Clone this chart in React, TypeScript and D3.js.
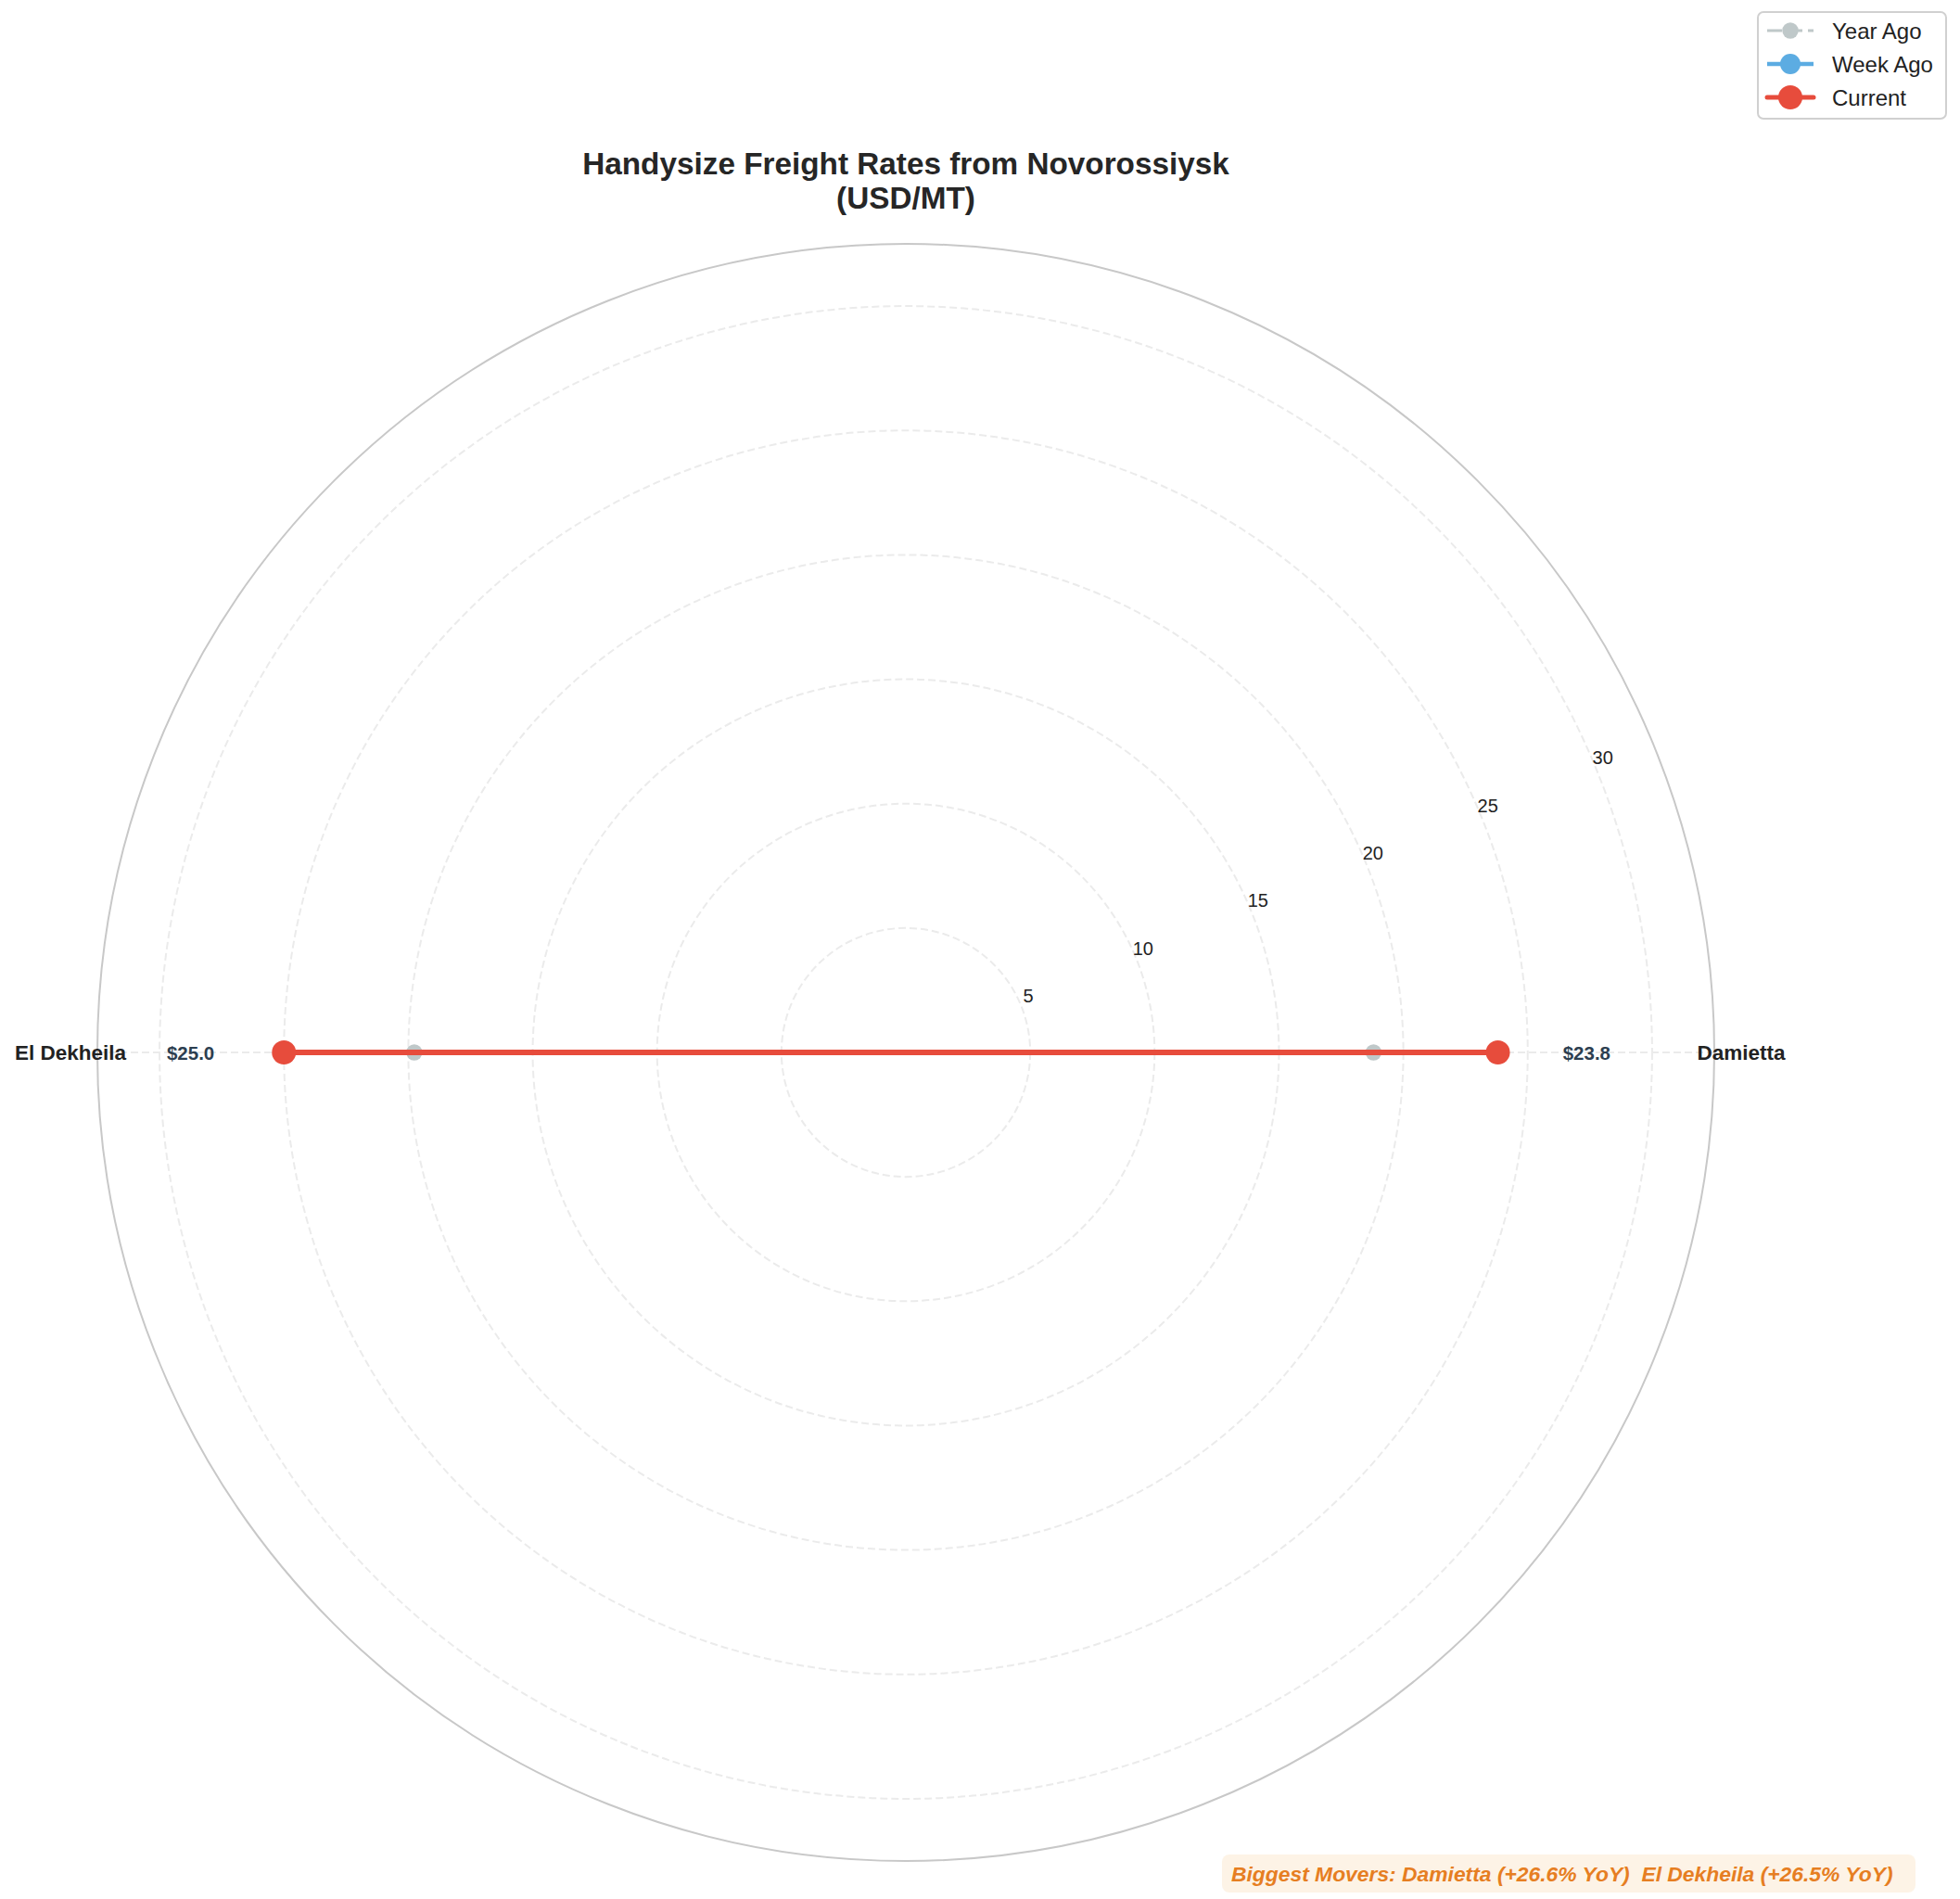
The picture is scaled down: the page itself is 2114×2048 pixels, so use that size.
import React, { useEffect } from "react";
import * as d3 from "d3";

// ---- data ----
const categories: string[] = ["Damietta", "El Dekheila"];
const yearAgo: number[] = [18.8, 19.76];
const weekAgo: number[] = [23.8, 25.0];
const current: number[] = [23.8, 25.0];
const radialTicks: number[] = [5, 10, 15, 20, 25, 30];
const rMax = 32.5;
const seriesNames: string[] = ["Year Ago", "Week Ago", "Current"];
const titleLines: string[] = ["Handysize Freight Rates from Novorossiysk", "(USD/MT)"];
const moversText = "Biggest Movers: Damietta (+26.6% YoY)  El Dekheila (+26.5% YoY)";

const W = 2114;
const H = 2048;
const cx = 977;
const cy = 1135;
const R = 872;
const FONT = "'Liberation Sans', Arial, Helvetica, sans-serif";

const rScale = d3.scaleLinear().domain([0, rMax]).range([0, R]);
// matplotlib theta (0 = east, ccw)
const theta = (i: number) => (i * 2 * Math.PI) / categories.length;
const px = (t: number, r: number) => cx + r * Math.cos(t);
const py = (t: number, r: number) => cy - r * Math.sin(t);

const radialLine = d3
  .lineRadial<number>()
  .angle((_d, i) => Math.PI / 2 - theta(i))
  .radius((d) => rScale(d))
  .curve(d3.curveLinearClosed);

type Style = { color: string; opacity: number; lw: number; dash?: string; mr: number };
const styles: Style[] = [
  { color: "#95a5a6", opacity: 0.6, lw: 3, dash: "16,6", mr: 8.7 },
  { color: "#3498db", opacity: 0.8, lw: 4.5, mr: 11 },
  { color: "#e74c3c", opacity: 1, lw: 6, mr: 13 },
];
const seriesData: number[][] = [yearAgo, weekAgo, current];

export default function App() {
  useEffect(() => {
    document.body.style.margin = "0";
  }, []);
  const gridColor = "#ebebeb";
  const labelAngle = (22.5 * Math.PI) / 180;
  return (
    <svg
      width={W}
      height={H}
      viewBox={`0 0 ${W} ${H}`}
      style={{ position: "absolute", left: 0, top: 0, background: "#fff" }}
      fontFamily={FONT}
    >
      <rect x={0} y={0} width={W} height={H} fill="#fff" />
      {/* title */}
      {titleLines.map((t, i) => (
        <text
          key={i}
          x={cx}
          y={188 + i * 37}
          textAnchor="middle"
          fontSize={33.3}
          fontWeight="bold"
          fill="#262626"
        >
          {t}
        </text>
      ))}
      {/* radial grid rings */}
      {radialTicks.map((t) => (
        <circle
          key={t}
          cx={cx}
          cy={cy}
          r={rScale(t)}
          fill="none"
          stroke={gridColor}
          strokeWidth={2}
          strokeDasharray="8,4"
        />
      ))}
      {/* angular grid lines */}
      {categories.map((c, i) => (
        <line
          key={c}
          x1={cx}
          y1={cy}
          x2={px(theta(i), R)}
          y2={py(theta(i), R)}
          stroke={gridColor}
          strokeWidth={2}
          strokeDasharray="8,4"
        />
      ))}
      {/* outer spine */}
      <circle cx={cx} cy={cy} r={R} fill="none" stroke="#c8c8c8" strokeWidth={2} />
      {/* radial tick labels */}
      {radialTicks.map((t) => (
        <text
          key={t}
          x={px(labelAngle, rScale(t)) + 8}
          y={py(labelAngle, rScale(t)) - 9.5}
          textAnchor="middle"
          dominantBaseline="central"
          fontSize={20}
          fill="#222"
        >
          {t}
        </text>
      ))}
      {/* series */}
      {seriesData.map((data, si) => {
        const s = styles[si];
        return (
          <g key={si} opacity={s.opacity}>
            <path
              d={radialLine(data) || ""}
              transform={`translate(${cx},${cy})`}
              fill="none"
              stroke={s.color}
              strokeWidth={s.lw}
              strokeDasharray={s.dash}
              strokeLinejoin="round"
            />
            {data.map((v, i) => (
              <circle
                key={i}
                cx={px(theta(i), rScale(v))}
                cy={py(theta(i), rScale(v))}
                r={s.mr}
                fill={s.color}
              />
            ))}
          </g>
        );
      })}
      {/* value labels */}
      {current.map((v, i) => (
        <text
          key={i}
          x={px(theta(i), rScale(v * 1.15))}
          y={py(theta(i), rScale(v * 1.15))}
          textAnchor="middle"
          dominantBaseline="central"
          fontSize={20.5}
          fontWeight="bold"
          fill="#2c3e50"
        >
          {`$${v.toFixed(1)}`}
        </text>
      ))}
      {/* category labels */}
      {categories.map((c, i) => (
        <text
          key={c}
          x={px(theta(i), R + 29)}
          y={py(theta(i), R + 29)}
          textAnchor="middle"
          dominantBaseline="central"
          fontSize={22.5}
          fontWeight="bold"
          fill="#222"
        >
          {c}
        </text>
      ))}
      {/* legend */}
      <g>
        <rect x={1896} y={13} width={203} height={115} rx={6} fill="#fff" stroke="#d0d0d0" strokeWidth={2} />
        {seriesNames.map((n, i) => {
          const s = styles[i];
          const y = 33 + i * 36;
          return (
            <g key={n}>
              <g opacity={s.opacity}>
                <line
                  x1={1906}
                  y1={y}
                  x2={1956}
                  y2={y}
                  stroke={s.color}
                  strokeWidth={s.lw - (i === 2 ? 1 : 0)}
                  strokeDasharray={s.dash}
                  strokeLinecap={i === 2 ? "round" : "butt"}
                />
                <circle cx={1931} cy={y} r={s.mr} fill={s.color} />
              </g>
              <text x={1976} y={y} dominantBaseline="central" fontSize={24} fill="#222">
                {n}
              </text>
            </g>
          );
        })}
      </g>
      {/* biggest movers annotation */}
      <rect x={1318} y={2000} width={748} height={41} rx={8} fill="#fdf2e3" opacity={0.9} />
      <text
        x={1328}
        y={2021}
        dominantBaseline="central"
        fontSize={22.85}
        fontWeight="bold"
        fontStyle="italic"
        fill="#e67e22"
        style={{ whiteSpace: "pre" }}
      >
        {moversText}
      </text>
    </svg>
  );
}
